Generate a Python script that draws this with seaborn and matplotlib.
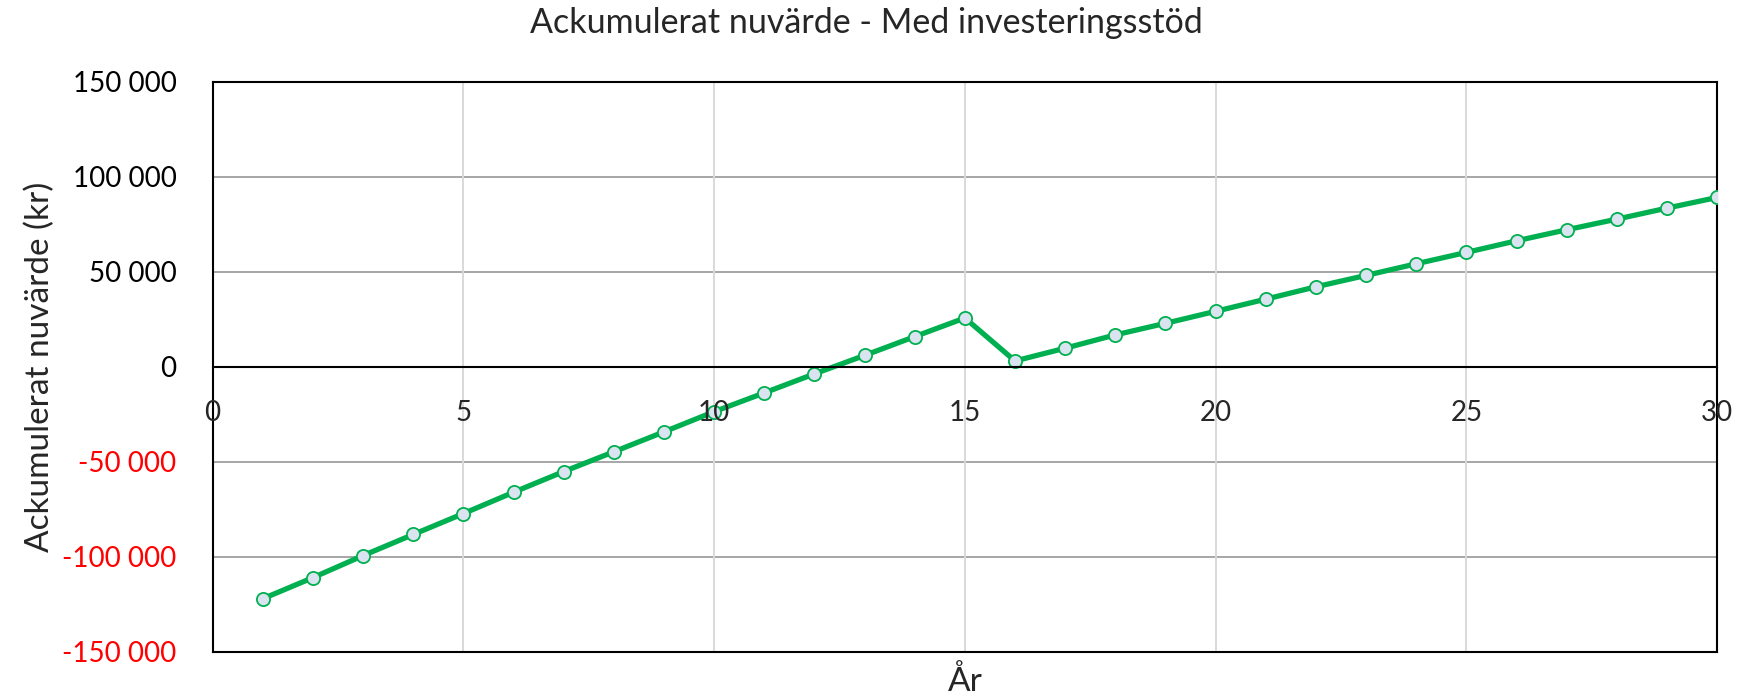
import matplotlib
matplotlib.use("Agg")
import matplotlib.pyplot as plt
import seaborn as sns
import pandas as pd
from matplotlib.ticker import FuncFormatter

years = list(range(1, 31))
values = [-122000, -110900, -99300, -88200, -77200, -66000, -55100, -44700, -34200, -23600,
          -13700, -3700, 6000, 15900, 25700, 3100, 9800, 16800, 22900, 29200,
          35600, 42100, 48100, 54200, 60200, 66300, 72100, 77700, 83500, 89100]
x_ticks = [0, 5, 10, 15, 20, 25, 30]
y_ticks = [-150000, -100000, -50000, 0, 50000, 100000, 150000]
title = "Ackumulerat nuvärde - Med investeringsstöd"
xlabel = "År"
ylabel = "Ackumulerat nuvärde (kr)"

sns.set_theme(style="white")
plt.rcParams["font.family"] = ["Lato", "DejaVu Sans"]

df = pd.DataFrame({"year": years, "value": values})

fig = plt.figure(figsize=(17.54, 6.97), dpi=100)
ax = fig.add_axes([0.1212, 0.0646, 0.979 - 0.1212, 0.8828 - 0.0646])

sns.lineplot(data=df, x="year", y="value", ax=ax, color="#00b050", linewidth=3.8,
             marker="o", markersize=9.5, markerfacecolor="#dae3f0",
             markeredgecolor="#00b050", markeredgewidth=1.3, zorder=5)

ax.set_xlim(0, 30)
ax.set_ylim(-150000, 150000)
ax.set_yticks(y_ticks)
ax.set_xticks(x_ticks)

def fmt(v, pos):
    s = f"{abs(int(v)):,}".replace(",", " ")
    return ("-" if v < 0 else "") + s
ax.yaxis.set_major_formatter(FuncFormatter(fmt))
ax.tick_params(axis="y", length=0, pad=26, labelsize=20)
for lab, v in zip(ax.get_yticklabels(), y_ticks):
    lab.set_color("#ff0000" if v < 0 else "black")

# hide primary x tick labels, show them at y=0 instead
ax.tick_params(axis="x", length=0, labelbottom=False)
sec = ax.secondary_xaxis(0.5)
sec.set_zorder(10)
sec.xaxis.set_ticks_position("bottom")
sec.set_xticks(x_ticks)
sec.tick_params(axis="x", length=0, pad=24, labelsize=20,
                labelbottom=True, labeltop=False)
sec.spines["top"].set_visible(False)
sec.spines["bottom"].set_visible(True)
sec.spines["bottom"].set_color("black")
sec.spines["bottom"].set_linewidth(1.5)

# grid
ax.grid(False)
for v in y_ticks:
    if v != 0:
        ax.axhline(v, color="#a6a6a6", linewidth=1.4, zorder=1)
for v in x_ticks:
    ax.axvline(v, color="#d9d9d9", linewidth=1.4, zorder=1)

for s in ax.spines.values():
    s.set_color("black")
    s.set_linewidth(1.5)
    s.set_visible(True)

ax.set_xlabel(xlabel, fontsize=24, labelpad=10)
ax.set_ylabel(ylabel, fontsize=24, labelpad=5)
fig.suptitle(title, fontsize=24.5, x=0.494, y=0.99)

fig.savefig("out.png", dpi=100)
